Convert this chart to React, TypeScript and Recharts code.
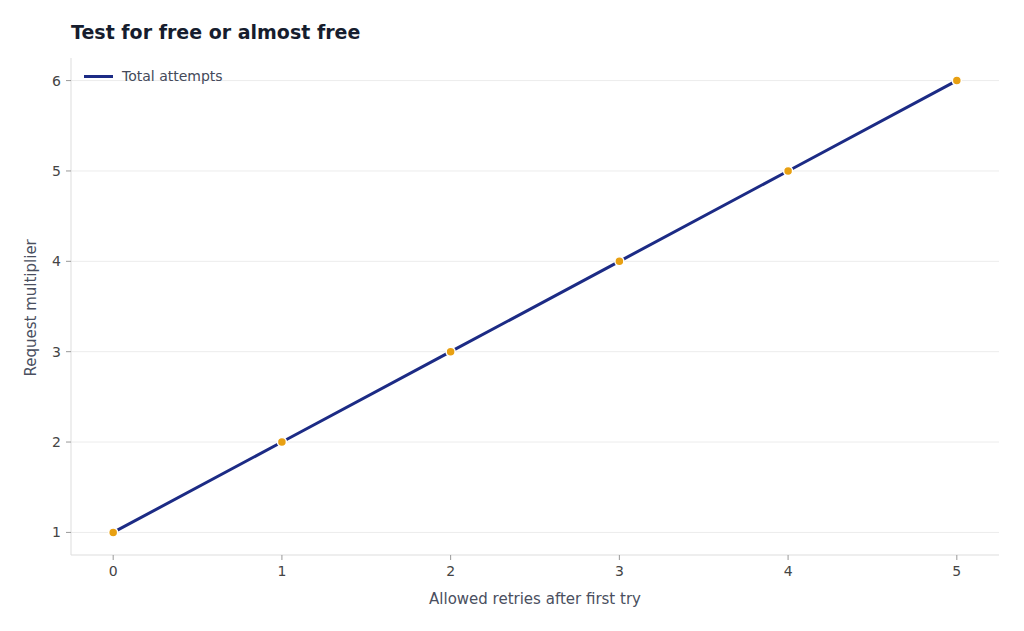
import React from 'react';
import { LineChart, Line, XAxis, YAxis, ReferenceLine } from 'recharts';

const retries = [0, 1, 2, 3, 4, 5];
const attempts = [1, 2, 3, 4, 5, 6];
const xTicks = [0, 1, 2, 3, 4, 5];
const yTicks = [1, 2, 3, 4, 5, 6];

const data = retries.map((r, i) => ({ retries: r, attempts: attempts[i] }));

const font = "'DejaVu Sans', sans-serif";

export default function App() {
  return (
    <div style={{ position: 'relative', width: 1024, height: 631, background: '#fff' }}>
      <style>{'body{margin:0}'}</style>
      <div
        style={{
          position: 'absolute',
          left: 71,
          top: 21,
          fontFamily: font,
          fontWeight: 'bold',
          fontSize: 19,
          color: '#161d2e',
        }}
      >
        Test for free or almost free
      </div>
      <div
        style={{
          position: 'absolute',
          left: 84,
          top: 68,
          display: 'flex',
          alignItems: 'center',
          fontFamily: font,
          fontSize: 14,
          color: '#444a5a',
          zIndex: 1,
        }}
      >
        <span style={{ display: 'inline-block', width: 29, height: 3, background: '#1c2b85', marginRight: 9 }} />
        Total attempts
      </div>
      <LineChart width={1024} height={631} data={data} margin={{ top: 58, right: 25, bottom: 0, left: 0 }}>
        {yTicks.map((t) => (
          <ReferenceLine key={t} y={t} stroke="#ececec" strokeWidth={1} />
        ))}
        <XAxis
          dataKey="retries"
          type="number"
          domain={[-0.25, 5.25]}
          ticks={xTicks}
          height={76}
          stroke="#dddddd"
          tickSize={5}
          tickMargin={6}
          tick={{ fill: '#444', fontSize: 14, fontFamily: font }}
          tickLine={{ stroke: '#999' }}
          label={{ value: 'Allowed retries after first try', position: 'insideBottom', offset: 27, fill: '#4a4f60', fontSize: 15, fontFamily: font }}
        />
        <YAxis
          type="number"
          domain={[0.75, 6.25]}
          ticks={yTicks}
          width={71}
          stroke="#dddddd"
          tickSize={5}
          tickMargin={5}
          tick={{ fill: '#444', fontSize: 14, fontFamily: font }}
          tickLine={{ stroke: '#999' }}
          label={{ value: 'Request multiplier', angle: -90, position: 'insideLeft', offset: 31, dy: 70, fill: '#4a4f60', fontSize: 15, fontFamily: font }}
        />
        <Line
          type="linear"
          dataKey="attempts"
          stroke="#1c2b85"
          strokeWidth={3}
          dot={{ r: 4.5, fill: '#e8a012', stroke: '#fff', strokeWidth: 1.5 }}
          isAnimationActive={false}
        />
      </LineChart>
    </div>
  );
}
